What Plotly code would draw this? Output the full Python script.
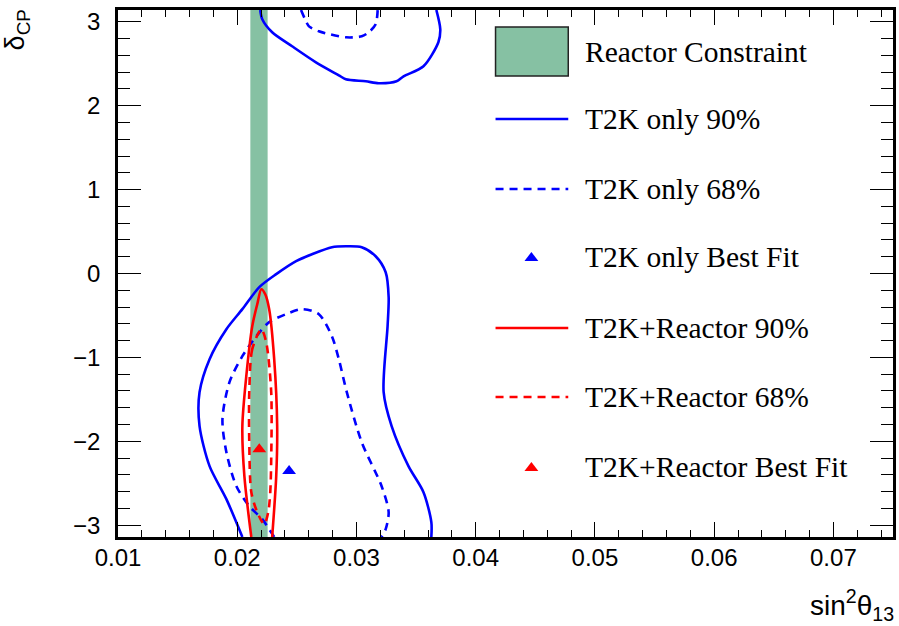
import math
import plotly.graph_objects as go

PI = math.pi

# Reactor constraint band (sin^2 theta13)
reactor_lo = 0.02110
reactor_hi = 0.02255

# T2K only 90% CL contour - upper piece (wraps at delta = pi)
t2k90_top_x = [0.02193, 0.0221, 0.02293, 0.02460, 0.02660, 0.02852, 0.02911, 0.03078,
               0.03186, 0.03336, 0.03395, 0.03562, 0.03687, 0.03703, 0.03670]
t2k90_top_y = [PI, 3.031, 2.876, 2.709, 2.518, 2.363, 2.316, 2.292,
               2.268, 2.292, 2.351, 2.471, 2.757, 2.912, PI]

# T2K only 90% CL contour - lower piece
t2k90_bot_x = [0.02043, 0.01909, 0.01768, 0.01684, 0.01684, 0.01768, 0.01909, 0.02043,
               0.02185, 0.02327, 0.02494, 0.02627, 0.02794, 0.02911, 0.03044, 0.03161,
               0.03245, 0.03270, 0.03261, 0.03228, 0.03295, 0.03436, 0.03562, 0.03628, 0.03628]
t2k90_bot_y = [-PI, -2.690, -2.297, -1.820, -1.415, -1.021, -0.664, -0.425,
               -0.163, -0.008, 0.147, 0.230, 0.314, 0.325, 0.314, 0.206,
               0.015, -0.282, -0.628, -1.415, -1.820, -2.297, -2.607, -2.964, -PI]

# T2K only 68% CL contour - upper piece
t2k68_top_x = [0.02535, 0.02569, 0.02602, 0.02685, 0.02911, 0.03044, 0.03103, 0.03161, 0.03178]
t2k68_top_y = [PI, 3.031, 2.947, 2.888, 2.816, 2.828, 2.876, 2.971, PI]

# T2K only 68% CL contour - lower piece
t2k68_bot_x = [0.02310, 0.02210, 0.02101, 0.01993, 0.01909, 0.01876, 0.01935, 0.02043,
               0.02160, 0.02268, 0.02410, 0.02544, 0.02685, 0.02794, 0.02852, 0.02919,
               0.03044, 0.03211, 0.03270, 0.03245, 0.03211]
t2k68_bot_y = [-PI, -2.929, -2.774, -2.536, -2.130, -1.737, -1.296, -0.986,
               -0.748, -0.580, -0.485, -0.425, -0.485, -0.748, -1.021, -1.415,
               -2.011, -2.536, -2.846, -3.048, -PI]

# T2K + Reactor 90% CL contour
comb90_x = [0.02118, 0.02060, 0.02043, 0.02076, 0.02126, 0.02168, 0.02202, 0.02235,
            0.02268, 0.02310, 0.02335, 0.02327, 0.02293]
comb90_y = [-PI, -2.416, -1.820, -1.224, -0.628, -0.366, -0.187, -0.247,
            -0.425, -1.021, -1.820, -2.416, -PI]

# T2K + Reactor 68% CL contour
comb68_x = [0.02202, 0.02126, 0.02101, 0.02101, 0.02118, 0.02168, 0.02227, 0.02260,
            0.02277, 0.02285, 0.02285, 0.02243, 0.02202]
comb68_y = [-0.664, -0.902, -1.415, -2.011, -2.607, -2.846, -2.989, -2.846,
            -2.607, -2.213, -1.415, -0.819, -0.664]

# Best fit points
t2k_best = (0.02435, -2.356)
comb_best = (0.02185, -2.094)

x_ticks = [0.01, 0.02, 0.03, 0.04, 0.05, 0.06, 0.07]
x_tick_labels = ["0.01", "0.02", "0.03", "0.04", "0.05", "0.06", "0.07"]
y_ticks = [-3, -2, -1, 0, 1, 2, 3]

legend_labels = ["Reactor Constraint", "T2K only 90%", "T2K only 68%", "T2K only Best Fit",
                 "T2K+Reactor 90%", "T2K+Reactor 68%", "T2K+Reactor Best Fit"]

GREEN = "rgb(134,193,163)"
BLUE = "#0000ff"
RED = "#ff0000"
LW = 2.6
DASH = "8px,6px"

fig = go.Figure()

# reactor band
fig.add_trace(go.Scatter(
    x=[reactor_lo, reactor_hi, reactor_hi, reactor_lo, reactor_lo],
    y=[-PI, -PI, PI, PI, -PI], fill="toself", fillcolor=GREEN,
    line=dict(width=0, color=GREEN), mode="lines", hoverinfo="skip"))

def contour(x, y, color, dash):
    fig.add_trace(go.Scatter(x=x, y=y, mode="lines",
                             line=dict(color=color, width=LW, dash=dash, shape="spline", smoothing=0.8),
                             hoverinfo="skip"))

contour(t2k90_top_x, t2k90_top_y, BLUE, "solid")
contour(t2k90_bot_x, t2k90_bot_y, BLUE, "solid")
contour(t2k68_top_x, t2k68_top_y, BLUE, DASH)
contour(t2k68_bot_x, t2k68_bot_y, BLUE, DASH)
contour(comb90_x, comb90_y, RED, "solid")
contour(comb68_x, comb68_y, RED, DASH)

fig.add_trace(go.Scatter(x=[t2k_best[0]], y=[t2k_best[1]], mode="markers",
                         marker=dict(symbol="triangle-up", size=12, color=BLUE, line=dict(width=0))))
fig.add_trace(go.Scatter(x=[comb_best[0]], y=[comb_best[1]], mode="markers",
                         marker=dict(symbol="triangle-up", size=12, color=RED, line=dict(width=0))))

# ---- manual legend (paper coordinates over the plot area) ----
W_L, W_R, H_T, H_B = 118, 896, 10, 537
def px(xp):
    return (xp - W_L) / (W_R - W_L)
def py(yp):
    return (H_B - yp) / (H_B - H_T)

entry_y = [52, 119, 189, 257, 328, 397, 467]
sx0, sx1 = px(497), px(570)

shapes = []
shapes.append(dict(type="rect", xref="paper", yref="paper", x0=sx0, x1=sx1,
                   y0=py(76), y1=py(27), fillcolor=GREEN, line=dict(color="#222", width=1.5)))
for yy, col, dsh in [(entry_y[1], BLUE, "solid"), (entry_y[2], BLUE, DASH),
                     (entry_y[4], RED, "solid"), (entry_y[5], RED, DASH)]:
    shapes.append(dict(type="line", xref="paper", yref="paper", x0=sx0, x1=sx1,
                       y0=py(yy), y1=py(yy), line=dict(color=col, width=LW, dash=dsh)))

# legend triangles on overlay axis spanning the plot area
fig.add_trace(go.Scatter(x=[px(533), px(533)], y=[py(entry_y[3] + 1), py(entry_y[6] + 1)],
                         xaxis="x2", yaxis="y2", mode="markers",
                         marker=dict(symbol="triangle-up", size=12, color=[BLUE, RED], line=dict(width=0)),
                         hoverinfo="skip"))

annotations = []
for lab, yy in zip(legend_labels, entry_y):
    annotations.append(dict(text=lab, xref="paper", yref="paper", x=px(585), y=py(yy),
                            xanchor="left", yanchor="middle", showarrow=False,
                            font=dict(family="Liberation Serif", size=29.5, color="black")))

annotations.append(dict(text="δ<sub>CP</sub>", xref="paper", yref="paper", x=px(17), y=py(30),
                        xanchor="center", yanchor="middle", textangle=-90, showarrow=False,
                        font=dict(family="Liberation Sans", size=27, color="black")))
annotations.append(dict(text="sin<sup>2</sup>θ<sub>13</sub>", xref="paper", yref="paper", x=px(899), y=py(605),
                        xanchor="right", yanchor="middle", showarrow=False,
                        font=dict(family="Liberation Sans", size=28, color="black")))

axis_common = dict(showgrid=False, zeroline=False, showline=True, linecolor="black", linewidth=2.5,
                   mirror="allticks", ticks="inside", tickcolor="black", tickwidth=1.3,
                   tickfont=dict(family="Liberation Sans", size=24, color="black"))

fig.update_layout(
    width=899, height=626,
    margin=dict(l=W_L, r=899 - W_R, t=H_T, b=626 - H_B),
    paper_bgcolor="white", plot_bgcolor="white",
    showlegend=False,
    shapes=shapes, annotations=annotations,
    xaxis=dict(range=[0.01, 0.075], tickvals=x_ticks, ticktext=x_tick_labels, ticklen=15,
               minor=dict(dtick=0.002, tick0=0.0, ticklen=7, ticks="inside", tickcolor="black", tickwidth=1.3),
               ticklabelstandoff=-3, **axis_common),
    yaxis=dict(range=[-PI, PI], tickvals=y_ticks, ticklen=23,
               minor=dict(dtick=0.2, tick0=0.0, ticklen=12, ticks="inside", tickcolor="black", tickwidth=1.3),
               ticklabelstandoff=10, **axis_common),
    xaxis2=dict(range=[0, 1], overlaying="x", visible=False, fixedrange=True),
    yaxis2=dict(range=[0, 1], overlaying="y", visible=False, fixedrange=True),
)

fig.write_html("out.html", config={"displayModeBar": False},
               post_script="document.body.style.margin='0px';document.body.style.overflow='hidden';")
